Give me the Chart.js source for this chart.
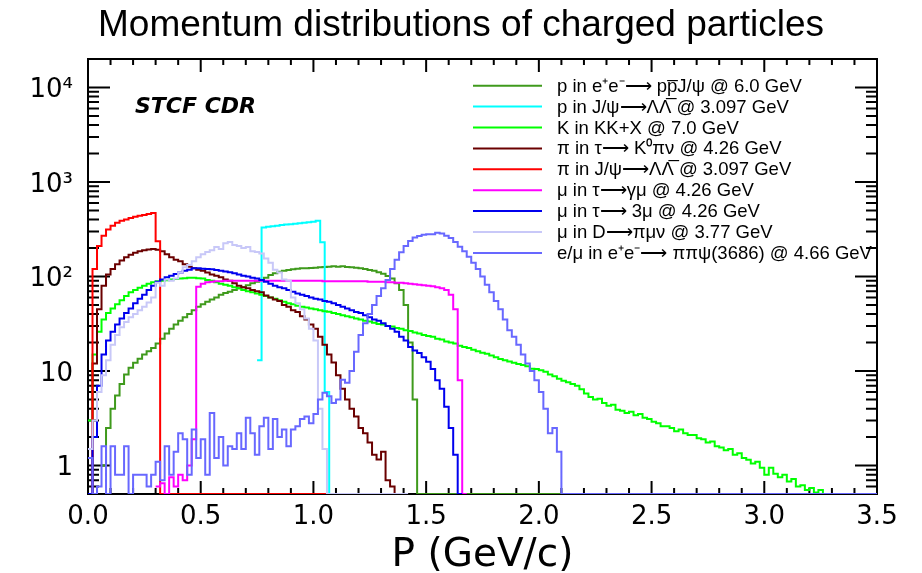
<!DOCTYPE html>
<html>
<head>
<meta charset="utf-8">
<script src="https://cdn.jsdelivr.net/npm/chart.js@4.4.0/dist/chart.umd.min.js"></script>
<style>
html,body{margin:0;padding:0;background:#fff;}
canvas{display:block;}
</style>
</head>
<body>
<canvas id="c" width="922" height="573"></canvas>
<script>
// ---------------- data ----------------
const chartTitle = 'Momentum distributions of charged particles';
const xAxisTitle = 'P (GeV/c)';
const cornerLabel = 'STCF CDR';
const binWidth = 0.02;            // GeV/c
const yMin = 0.5, yMax = 20000;
const xMin = 0, xMax = 3.5;
const xTickValues = [0, 0.5, 1.0, 1.5, 2.0, 2.5, 3.0, 3.5];
const xTickLabels = ['0.0', '0.5', '1.0', '1.5', '2.0', '2.5', '3.0', '3.5'];
const yTickValues = [1, 10, 100, 1000, 10000];
const yTickLabels = ['1', '10', '10\u00B2', '10\u00B3', '10\u2074'];

const seriesLabels = [
  'p in e\u207Ae\u207B\u27F6 pp\u0305J/\u03C8 @ 6.0 GeV',
  'p in J/\u03C8\u27F6\u039B\u039B\u0305 @ 3.097 GeV',
  'K in KK+X @ 7.0 GeV',
  '\u03C0 in \u03C4\u27F6 K\u2070\u03C0\u03BD @ 4.26 GeV',
  '\u03C0 in J/\u03C8\u27F6\u039B\u039B\u0305 @ 3.097 GeV',
  '\u03BC in \u03C4\u27F6\u03B3\u03BC @ 4.26 GeV',
  '\u03BC in \u03C4\u27F6 3\u03BC @ 4.26 GeV',
  '\u03BC in D\u27F6\u03C0\u03BC\u03BD @ 3.77 GeV',
  'e/\u03BC in e\u207Ae\u207B\u27F6 \u03C0\u03C0\u03C8(3686) @ 4.66 GeV'
];

// p in e+e- -> p pbar J/psi @ 6.0 GeV
const pPJpsiStart = 0.06, pPJpsiEnd = 2.10;
const pPJpsi = [1.0, 2.5, 4.0, 5.5, 7.3, 9.2, 10.8, 12.2, 13.5, 15, 16.2, 17.5, 19.5, 22, 25, 28, 31, 34, 37, 40,
  44, 48, 51, 54, 57, 60, 64, 67, 69, 72, 75, 77, 81, 85, 88, 92, 97, 104, 108, 112,
  115, 117, 119, 121, 122, 122, 123, 124, 125, 126, 127, 128, 127, 128, 126, 125, 124, 122, 120, 117,
  115, 111, 107, 101, 95, 85, 72, 50, 20, 5, 0];

// p in J/psi -> Lambda Lambdabar @ 3.097 GeV
const pLLStart = 0.75, pLLEnd = 1.07;
const pLL = [13, 330, 335, 340, 345, 350, 355, 358, 362, 366, 370, 375, 380, 388, 230, 6, 0];

// K in KK+X @ 7.0 GeV
const kKKStart = 0.0, kKKEnd = 3.5;
const kKK = [3, 15, 26, 35, 41, 46, 51, 56, 62, 68, 72, 76, 80, 84, 87, 89, 90, 91, 93, 94,
  95, 96, 97, 97, 96, 95, 92, 90, 87, 84, 82, 80, 77, 75, 72, 70, 68, 66, 64, 62,
  60, 58, 56, 54, 52, 51, 49, 48, 47, 46, 45, 44, 43, 42.5, 41, 40, 39, 38, 37, 36,
  35, 34, 33.5, 32.5, 31.5, 31, 30, 29.5, 28.5, 28, 27, 26.5, 25.5, 25, 24, 23.5, 23, 22, 21.5, 20.5,
  20, 19.5, 18.5, 18, 17.5, 16.8, 16.2, 15.6, 15.2, 14.6, 14, 13.4, 13, 12.6, 12.2, 11.9, 11.6, 11.2, 10.6, 10.5,
  10.2, 9.8, 9.2, 8.8, 8.3, 7.9, 7.6, 7.3, 7.0, 6.4, 5.8, 5.3, 5.0, 5.1, 4.6, 4.3, 4.4, 3.9, 3.8, 3.6,
  3.7, 3.4, 3.5, 3.2, 3.1, 2.9, 2.8, 2.6, 2.6, 2.5, 2.3, 2.4, 2.2, 2.1, 2.1, 1.95, 1.9, 1.75, 1.8, 1.6,
  1.55, 1.45, 1.5, 1.3, 1.35, 1.2, 1.15, 1.05, 1.1, 0.95, 0.8, 0.95, 0.82, 0.75, 0.8, 0.68, 0.72, 0.6, 0.62, 0.55,
  0.58, 0.52, 0.55, 0];

// pi in tau -> K0 pi nu @ 4.26 GeV
const piTauStart = 0.0, piTauEnd = 1.36;
const piTau = [0, 12, 45, 80, 105, 120, 135, 148, 160, 170, 178, 185, 190, 193, 195, 192, 185, 172, 160, 150,
  145, 135, 127, 122, 118, 115, 110, 105, 102, 98, 93, 90, 85, 80, 77, 75, 72, 70, 68, 63,
  60, 57, 55, 50, 48, 44, 42, 38, 35, 31, 28, 23, 19, 15, 12.3, 9, 6.5, 5, 4, 3.3,
  2.5, 2.2, 1.75, 1.3, 1.16, 1.4, 0.7, 0.6, 0];

// pi in J/psi -> Lambda Lambdabar @ 3.097 GeV
const piLLStart = 0.0, piLLEnd = 1.06;
const piLL = [0, 120, 210, 270, 315, 345, 370, 388, 402, 415, 428, 438, 448, 458, 470, 236, 0];

// mu in tau -> gamma mu @ 4.26 GeV
const muGammaStart = 0.30, muGammaEnd = 1.66;
const muGamma = [0.6, 0.65, 0, 0.75, 0.6, 0.8, 0.7, 1.0, 1.9, 78, 84, 87, 88, 89, 89, 90, 90, 90, 90, 90,
  90, 90, 90, 90, 90, 90, 90, 90, 90, 90, 90, 90, 90, 90, 90, 90, 90, 89, 89, 89,
  89, 89, 89, 89, 89, 89, 89, 88, 88, 88, 88, 87, 87, 86, 86, 85, 84, 83, 82, 81,
  80, 79, 77, 75, 72, 64, 45, 8, 0];

// mu in tau -> 3 mu @ 4.26 GeV
const mu3Start = 0.0, mu3End = 1.64;
const mu3 = [0, 2, 7, 15, 21, 26, 31, 36, 41, 46, 52, 58, 64, 72, 80, 88, 93, 98, 102, 106,
  110, 115, 118, 122, 122, 121, 120, 119, 117, 115, 113, 111, 108, 105, 102, 100, 97, 95, 92, 88,
  84, 80, 77, 75, 72, 69, 66, 64, 62, 60, 58, 57, 55, 54, 52, 50, 48, 46, 44, 42,
  41, 39, 37, 35, 34, 32, 30, 28, 26, 23, 21, 18, 16.5, 15.5, 14, 12.5, 10.5, 8, 6.5, 4.2,
  2.5, 1.3, 0];

// mu in D -> pi mu nu @ 3.77 GeV
const muDStart = 0.0, muDEnd = 1.42;
const muD = [1.5, 3, 6, 9, 13, 19, 24, 29, 33, 37, 40, 44, 48, 53, 60, 86, 80, 93, 90, 95,
  110, 125, 132, 145, 160, 172, 182, 190, 205, 195, 225, 232, 215, 210, 200, 205, 185, 182, 175, 155,
  140, 118, 110, 93, 90, 60, 52, 45, 36, 28, 21, 4, 1.5, 0];

// e/mu in e+e- -> pi pi psi(3686) @ 4.66 GeV
const emuStart = 0.0, emuEnd = 3.5;
const emu = [1.2, 0, 0.6, 1.6, 0, 1.6, 0.8, 0.8, 1.6, 0, 0.8, 0.8, 0.8, 0.6, 0.8, 1.1, 0.7, 1.6, 0.8, 1.4,
  2.2, 1.9, 0.8, 2.4, 1.2, 1.9, 0.8, 3.6, 1.2, 2.0, 1.0, 1.6, 1.5, 2.2, 1.5, 3.2, 2.2, 1.3, 2.6, 3.2,
  1.5, 3.1, 2.0, 2.4, 1.6, 2.4, 2.6, 3.1, 3.3, 2.8, 3.5, 5.0, 5.9, 5.4, 4.6, 5.0, 8.1, 7.5, 10, 16,
  24, 32, 40, 50, 62, 75, 92, 120, 150, 180, 210, 238, 258, 268, 276, 280, 280, 290, 285, 270,
  255, 232, 207, 185, 162, 140, 120, 100, 82, 68, 55, 45, 35, 27, 23, 19, 15, 12, 10, 8,
  6, 4, 2.2, 2.5, 1.4, 0];

const seriesColors = ['#3f9a1c', '#00ffff', '#00ff00', '#6a0000', '#ff0000', '#ff00ff', '#0000ee', '#c8c8f8', '#6868ff'];

const seriesDefs = [
  [pPJpsiStart, pPJpsi, pPJpsiEnd],
  [pLLStart, pLL, pLLEnd],
  [kKKStart, kKK, kKKEnd],
  [piTauStart, piTau, piTauEnd],
  [piLLStart, piLL, piLLEnd],
  [muGammaStart, muGamma, muGammaEnd],
  [mu3Start, mu3, mu3End],
  [muDStart, muD, muDEnd],
  [emuStart, emu, emuEnd]
];

// Build histogram step points (left bin edges, held until next edge); empty bins sit on the axis minimum
function histPoints(start, vals, end) {
  const pts = vals.map((v, i) => ({ x: start + i * binWidth, y: v > 0 ? Math.max(v, yMin) : yMin }));
  const lastEdge = start + vals.length * binWidth;
  const lastY = pts[pts.length - 1].y;
  if (end > lastEdge + 1e-9) {
    pts.push({ x: end, y: yMin });
  } else {
    pts.push({ x: lastEdge, y: lastY });
  }
  return pts;
}

const datasets = seriesDefs.map((d, i) => ({
  label: seriesLabels[i],
  data: histPoints(d[0], d[1], d[2]),
  borderColor: seriesColors[i],
  backgroundColor: seriesColors[i],
  borderWidth: 2,
  pointRadius: 0,
  stepped: 'before',
  fill: false,
  yAxisID: 'y',
  order: seriesDefs.length - i
}));

// ---------------- plugins ----------------
const SANS = '"Liberation Sans", Arial, Helvetica, sans-serif';
const WIDE = '"DejaVu Sans", Verdana, sans-serif';

const frameTicks = {
  id: 'frameTicks',
  beforeDatasetsDraw(chart) {
    const { ctx, chartArea: a, scales: { x, y } } = chart;
    ctx.save();
    ctx.strokeStyle = '#000';
    ctx.lineWidth = 2;
    ctx.strokeRect(a.left, a.top, a.right - a.left, a.bottom - a.top);
    ctx.beginPath();
    for (let k = 0; k <= 35; k++) {
      const px = x.getPixelForValue(k / 10);
      const len = (k % 5 === 0) ? 13 : 6;
      ctx.moveTo(px, a.bottom); ctx.lineTo(px, a.bottom - len);
      ctx.moveTo(px, a.top); ctx.lineTo(px, a.top + len);
    }
    for (let e = -1; e <= 4; e++) {
      for (let m = 1; m <= 9; m++) {
        const v = m * Math.pow(10, e);
        if (v <= y.min || v >= y.max) continue;
        const py = y.getPixelForValue(v);
        const len = (m === 1) ? 22 : 11;
        ctx.moveTo(a.left, py); ctx.lineTo(a.left + len, py);
        ctx.moveTo(a.right, py); ctx.lineTo(a.right - len, py);
      }
    }
    ctx.stroke();
    ctx.restore();
  }
};

const rootLegend = {
  id: 'rootLegend',
  afterDatasetsDraw(chart) {
    const ctx = chart.ctx;
    ctx.save();
    chart.data.datasets.forEach((ds, i) => {
      const yy = 85.7 + i * 20.9;
      ctx.strokeStyle = ds.borderColor;
      ctx.lineWidth = 2;
      ctx.beginPath();
      ctx.moveTo(473, yy);
      ctx.lineTo(542, yy);
      ctx.stroke();
      ctx.fillStyle = '#000';
      ctx.font = '18.5px ' + SANS;
      ctx.textAlign = 'left';
      ctx.textBaseline = 'middle';
      ctx.fillText(ds.label, 557, yy + 1);
    });
    ctx.font = 'italic bold 22px ' + WIDE;
    ctx.textBaseline = 'alphabetic';
    ctx.fillStyle = '#000';
    ctx.fillText(cornerLabel, 135, 113);
    ctx.restore();
  }
};

// ---------------- chart ----------------
new Chart(document.getElementById('c'), {
  type: 'line',
  data: { datasets },
  options: {
    responsive: false,
    animation: false,
    devicePixelRatio: 1,
    layout: { padding: { left: 0, right: 0, top: 0, bottom: 0 } },
    plugins: {
      legend: { display: false },
      tooltip: { enabled: false },
      title: {
        display: true,
        text: chartTitle,
        color: '#000',
        font: { family: SANS, size: 37, weight: 'normal', lineHeight: 1.2 },
        padding: { top: 4, bottom: 10.6 }
      }
    },
    scales: {
      x: {
        type: 'linear',
        min: xMin, max: xMax,
        grid: { display: false, drawTicks: false },
        border: { display: false },
        afterBuildTicks: s => { s.ticks = xTickValues.map(v => ({ value: v })); },
        ticks: {
          autoSkip: false, maxRotation: 0, color: '#000', padding: 8,
          font: { family: WIDE, size: 26, lineHeight: 1.2 },
          callback: (v) => { const i = xTickValues.findIndex(t => Math.abs(t - v) < 1e-9); return i >= 0 ? xTickLabels[i] : ''; }
        },
        title: {
          display: true, text: xAxisTitle, color: '#000',
          font: { family: WIDE, size: 39, lineHeight: 0.9 },
          padding: { top: 0, bottom: 0 }
        },
        afterFit: s => { s.height = 79; }
      },
      y: {
        type: 'logarithmic',
        position: 'left',
        min: yMin, max: yMax,
        grid: { display: false, drawTicks: false },
        border: { display: false },
        afterBuildTicks: s => { s.ticks = yTickValues.map(v => ({ value: v })); },
        ticks: {
          autoSkip: false, color: '#000', padding: 15, labelOffset: 3,
          font: { family: WIDE, size: 26, lineHeight: 1.2 },
          callback: (v) => { const i = yTickValues.indexOf(v); return i >= 0 ? yTickLabels[i] : ''; }
        },
        afterFit: s => { s.width = 88; }
      },
      yRight: {
        type: 'linear',
        position: 'right',
        display: true,
        grid: { display: false, drawTicks: false },
        border: { display: false },
        ticks: { display: false },
        afterFit: s => { s.width = 45; }
      }
    }
  },
  plugins: [frameTicks, rootLegend]
});
</script>
</body>
</html>
